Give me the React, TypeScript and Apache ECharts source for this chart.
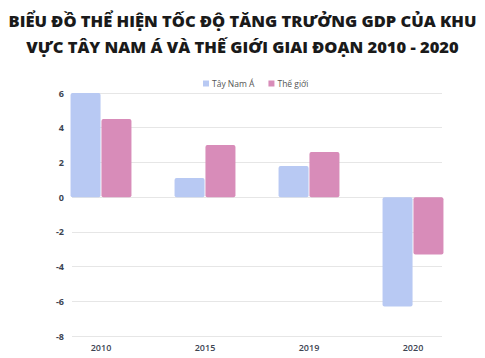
import React, { useEffect, useRef } from "react";
import * as echarts from "echarts";

const categories = ["2010", "2015", "2019", "2020"];
const tayNamA = [6.0, 1.1, 1.8, -6.3];
const theGioi = [4.5, 3.0, 2.6, -3.3];
const seriesNames = ["Tây Nam Á", "Thế giới"];
const titleText = "BIỂU ĐỒ THỂ HIỆN TỐC ĐỘ TĂNG TRƯỞNG GDP CỦA KHU\nVỰC TÂY NAM Á VÀ THẾ GIỚI GIAI ĐOẠN 2010 - 2020";

export default function App() {
  const ref = useRef<HTMLDivElement>(null);
  useEffect(() => {
    const chart = echarts.init(ref.current!, null, { renderer: "svg" });
    const font = "Open Sans, sans-serif";
    chart.setOption({
      animation: false,
      backgroundColor: "#ffffff",
      title: {
        text: titleText,
        left: "center",
        top: 2,
        textStyle: { fontFamily: font, fontWeight: 800, fontSize: 16.5, color: "#1a1a1a", lineHeight: 26 },
      },
      legend: {
        top: 74,
        left: 198,
        itemWidth: 6,
        itemHeight: 6,
        itemGap: 14,
        icon: "rect",
        textStyle: { fontFamily: font, fontSize: 8.5, color: "#555", padding: [0, 0, 0, -2] },
        data: seriesNames,
      },
      grid: [
        { left: 72, right: 43, top: 93, bottom: 22 },
        { left: 49, right: 20, top: 93, bottom: 22 },
      ],
      xAxis: [
        { type: "category", gridIndex: 0, data: categories, show: false },
        {
          type: "category",
          gridIndex: 1,
          data: categories,
          axisLine: { show: false },
          axisTick: { show: false },
          axisLabel: { fontFamily: font, fontSize: 9, fontWeight: 600, color: "#3d4452", margin: 7 },
        },
      ],
      yAxis: [
        {
          type: "value",
          gridIndex: 0,
          min: -8,
          max: 6,
          interval: 2,
          axisLine: { show: false },
          axisTick: { show: false },
          axisLabel: { fontFamily: font, fontSize: 9, fontWeight: 700, color: "#3d4452", margin: 8 },
          splitLine: { lineStyle: { color: "#e6e6e6" } },
        },
        { type: "value", gridIndex: 1, min: -8, max: 6, interval: 2, show: false },
      ],
      series: [
        {
          name: seriesNames[0],
          type: "bar",
          xAxisIndex: 1,
          yAxisIndex: 1,
          data: tayNamA,
          barWidth: 30,
          barGap: "3%",
          itemStyle: { color: "#b8c9f3", borderRadius: 2 },
        },
        {
          name: seriesNames[1],
          type: "bar",
          xAxisIndex: 1,
          yAxisIndex: 1,
          data: theGioi,
          barWidth: 30,
          barGap: "3%",
          itemStyle: { color: "#d88cb9", borderRadius: 2 },
        },
      ],
    });
    return () => chart.dispose();
  }, []);
  return <div ref={ref} style={{ width: 485, height: 358, position: "absolute", left: 0, top: 0 }} />;
}
